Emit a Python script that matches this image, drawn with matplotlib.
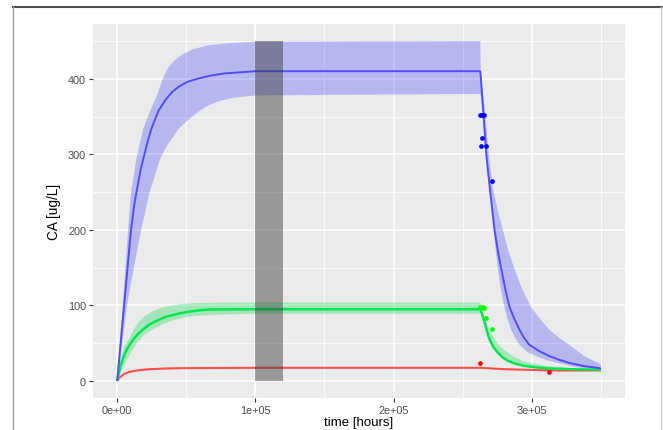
import matplotlib
matplotlib.use("Agg")
import matplotlib.pyplot as plt
from matplotlib.lines import Line2D
from matplotlib.patches import Rectangle

plt.rcParams['font.family'] = ['Liberation Sans', 'DejaVu Sans']

# ---- data ----
blue_mean_t = [0, 2500, 5000, 7500, 10000, 12500, 14000, 17000, 20000, 22500, 25000, 30000, 35000, 40000,
               45000, 51000, 58000, 67000, 77000, 100000, 262800, 264000, 265200, 267100, 270000, 273100,
               275500, 277900, 280800, 283900, 287500, 291100, 294500, 298300, 305000, 312700, 320000,
               327100, 337000, 349300, 350000]
blue_mean_v = [0, 50, 100, 150, 200, 235, 250, 280, 302, 320, 335, 358, 372, 383,
               390, 396, 400, 404, 407, 410, 410, 380, 350, 300, 250, 200,
               172, 149, 122, 98, 82, 68, 57, 48, 40, 33, 28,
               24, 20, 17, 16]
blue_up_t = [0, 2500, 5000, 7500, 10000, 14000, 19000, 24000, 29000, 33000, 37000, 42000, 47000, 55000,
             65000, 80000, 100000, 262900, 263000, 266000, 269000, 272000, 275500, 279000, 283000, 287400,
             293000, 299500, 306000, 312700, 320000, 327100, 338000, 350000]
blue_up_v = [0, 62, 125, 190, 250, 295, 335, 358, 379, 400, 415, 425, 432, 439,
             444, 447, 449, 450, 412, 360, 300, 255, 225, 201, 173, 149,
             122, 98, 82, 68, 57, 48, 33, 22]
blue_lo_t = [0, 3000, 6000, 9000, 12000, 17300, 23500, 28900, 31300, 34900, 39700, 45000, 52900, 60000,
             67400, 75000, 84200, 101000, 262900, 264500, 267000, 269500, 272300, 275400, 277800, 280200,
             282500, 285000, 288000, 291100, 297000, 303100, 310000, 317500, 333000, 350000]
blue_lo_v = [0, 40, 85, 120, 149, 200, 250, 281, 295, 308, 321, 335, 348, 358,
             366, 371, 375, 378, 380, 360, 300, 250, 201, 149, 120, 98,
             82, 68, 57, 48, 38, 33, 28, 24.5, 18, 15]

green_mean_t = [0, 1200, 2400, 4000, 6000, 9000, 12000, 15500, 19200, 23500, 28900, 34500, 40900, 46500,
                52900, 60000, 67400, 100000, 262800, 264200, 265900, 267600, 269400, 272200, 275400, 278800,
                282600, 288000, 294700, 303000, 312700, 330000, 350000]
green_mean_v = [0, 11, 20, 29, 38, 48, 55.6, 63, 69, 75, 80, 84.5, 87.6, 90,
                92, 93.7, 94.7, 95, 95, 88, 78, 66, 55.6, 45, 37.8, 31.5,
                26.7, 23, 20, 18, 16.5, 15.5, 15]
green_up_t = [0, 2500, 5000, 8500, 12000, 15600, 20000, 24500, 29000, 34000, 40000, 47000, 55000, 80000,
              262800, 264000, 267000, 270000, 273000, 277500, 282500, 287500, 293300, 301000, 310300,
              330000, 350000]
green_up_v = [0, 28, 45, 56, 68, 78, 86, 91, 95, 98, 100, 102, 103, 104,
              104, 95, 78, 66, 55.6, 45, 37.8, 31.5, 26.7, 23, 20,
              17, 15.5]
green_lo_t = [0, 3000, 6000, 10000, 15000, 20000, 24500, 29000, 34000, 40000, 47000, 55000, 75000, 100000,
              262800, 264500, 266500, 268500, 271500, 274500, 278000, 281500, 287000, 293500, 312000, 350000]
green_lo_v = [0, 12, 25, 38, 52, 62, 67, 71, 76, 80, 83.5, 86, 88, 89,
              89, 80, 68, 56, 46, 38, 31.5, 26.7, 23, 20, 16, 14.5]

red_mean_t = [0, 2000, 4800, 8000, 12000, 18000, 24000, 35000, 48000, 100000, 263000, 280000, 320000, 350000]
red_mean_v = [0, 5, 9, 11.5, 13.3, 14.8, 15.6, 16.5, 17, 17.5, 17.5, 15.6, 13.8, 14]
red_up_v = [0, 5.6, 9.8, 12.4, 14.3, 15.8, 16.6, 17.5, 18, 18.5, 18.5, 16.4, 14.5, 14.6]
red_lo_v = [0, 4.4, 8.2, 10.6, 12.3, 13.8, 14.6, 15.5, 16, 16.5, 16.5, 14.8, 13.1, 13.4]

blue_obs_t = [262300, 263700, 265200, 264300, 263500, 267100, 271200]
blue_obs_v = [351.5, 351.5, 351.5, 321, 310.6, 310.6, 264.5]
green_obs_t = [262300, 263500, 264500, 265200, 267100, 271400]
green_obs_v = [98, 96, 98, 97, 84, 69.4]
red_obs_t = [262500, 312700]
red_obs_v = [23.3, 11.7]

rect_t = [100000, 120000]
rect_v = [0, 450]

x_ticks = [0, 100000, 200000, 300000]
x_labels = ["0e+00", "1e+05", "2e+05", "3e+05"]
y_ticks = [0, 100, 200, 300, 400]

# ---- figure ----
fig = plt.figure(figsize=(6.63, 4.31), dpi=100)
fig.patch.set_facecolor('white')
ax = fig.add_axes([93/663, 1-399/431, (625-93)/663, (399-25)/431])
ax.set_facecolor('#EBEBEB')

def band(ax, tu, vu, tl, vl, color, alpha):
    xs = list(tu) + list(tl)[::-1]
    ys = list(vu) + list(vl)[::-1]
    ax.fill(xs, ys, color=color, alpha=alpha, lw=0, zorder=2)

band(ax, blue_up_t, blue_up_v, blue_lo_t, blue_lo_v, '#0000FF', 0.22)
band(ax, green_up_t, green_up_v, green_lo_t, green_lo_v, '#00D94A', 0.30)
band(ax, red_mean_t, red_up_v, red_mean_t, red_lo_v, '#FF3030', 0.30)

ax.plot(red_mean_t, red_mean_v, color='#FF5050', lw=1.5, zorder=3, solid_capstyle='butt')
ax.plot(green_mean_t, green_mean_v, color='#00E650', lw=1.8, zorder=3, solid_capstyle='butt')
ax.plot(blue_mean_t, blue_mean_v, color='#4F4FF5', lw=1.4, zorder=3, solid_capstyle='butt')

ax.plot(blue_obs_t, blue_obs_v, 'o', color='#0000FF', ms=3.4, mew=0, zorder=4)
ax.plot(green_obs_t, green_obs_v, 'o', color='#00FF00', ms=3.4, mew=0, zorder=4)
ax.plot(red_obs_t, red_obs_v, 'o', color='#FF0000', ms=3.4, mew=0, zorder=4)

ax.add_patch(Rectangle((rect_t[0], rect_v[0]), rect_t[1]-rect_t[0], rect_v[1]-rect_v[0],
                       facecolor='#333333', alpha=0.45, lw=0, zorder=5))

ax.set_xlim(-17500, 367500)
ax.set_ylim(-22.5, 472.5)
ax.set_xticks(x_ticks)
ax.set_xticklabels(x_labels)
ax.set_yticks(y_ticks)
ax.set_xticks([50000, 150000, 250000, 350000], minor=True)
ax.set_yticks([50, 150, 250, 350, 450], minor=True)
ax.grid(which='major', color='white', lw=1.1, zorder=0)
ax.grid(which='minor', color='white', lw=0.55, zorder=0)
ax.set_axisbelow(True)
for s in ax.spines.values():
    s.set_visible(False)
ax.tick_params(which='major', length=3, width=0.8, color='#333333', labelsize=7.8,
               labelcolor='#4D4D4D', pad=2)
ax.tick_params(which='minor', length=0)
ax.set_xlabel('time [hours]', fontsize=9.5, color='black', labelpad=0.5)
ax.set_ylabel('CA [ug/L]', fontsize=9.8, color='black', labelpad=5)

# outer frame
fig.add_artist(Line2D([13/663, 1], [1-8/431, 1-8/431], transform=fig.transFigure, color='#505050', lw=1.5))
fig.add_artist(Line2D([13/663, 13/663], [0, 1-8/431], transform=fig.transFigure, color='#A0A0A0', lw=1.0))
fig.add_artist(Line2D([661/663, 661/663], [0, 1-8/431], transform=fig.transFigure, color='#D0D0D0', lw=1.0))

fig.savefig('out.png', dpi=100)
